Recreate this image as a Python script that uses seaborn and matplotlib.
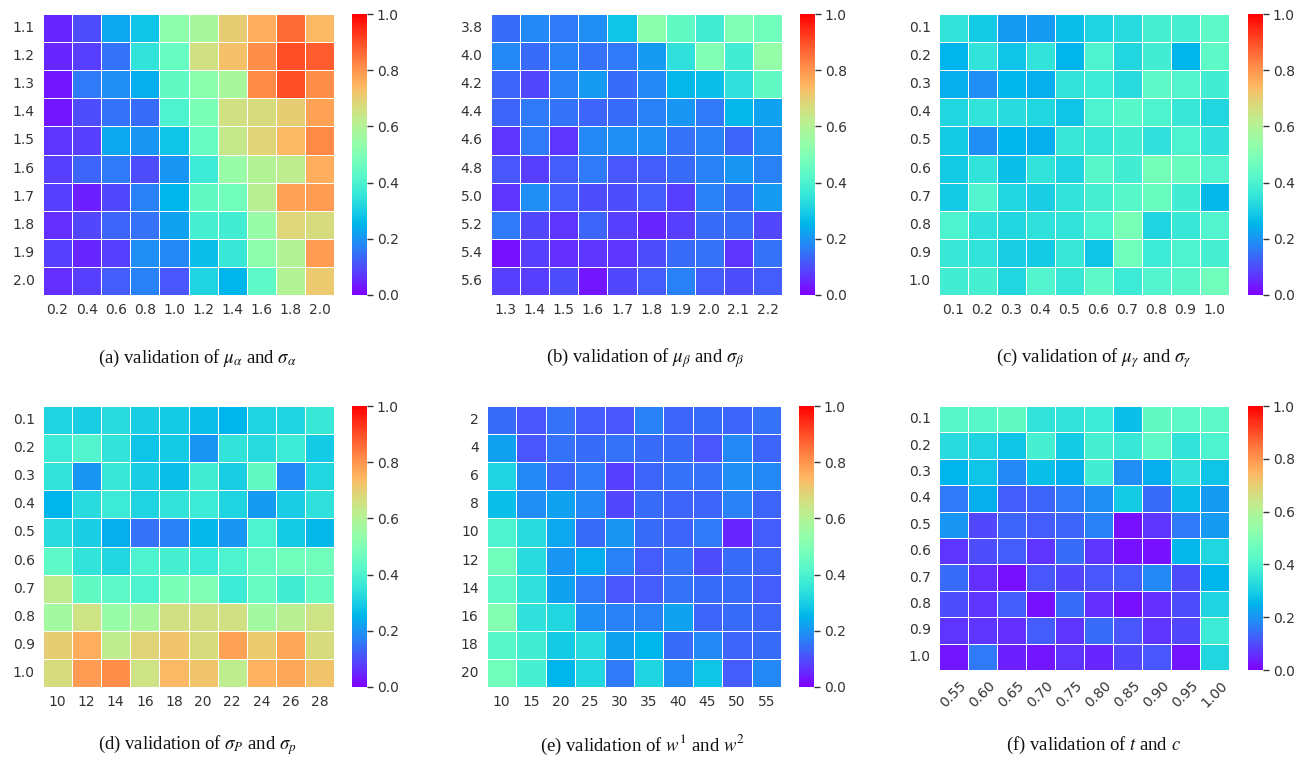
import numpy as np
import pandas as pd
import matplotlib
matplotlib.use("Agg")
import matplotlib.pyplot as plt
import seaborn as sns

# ---------------- data ----------------
a_rows = ["1.1", "1.2", "1.3", "1.4", "1.5", "1.6", "1.7", "1.8", "1.9", "2.0"]
a_cols = ["0.2", "0.4", "0.6", "0.8", "1.0", "1.2", "1.4", "1.6", "1.8", "2.0"]
a_vals = [
    [0.05, 0.10, 0.23, 0.28, 0.53, 0.58, 0.70, 0.76, 0.86, 0.74],
    [0.05, 0.08, 0.15, 0.35, 0.45, 0.66, 0.73, 0.81, 0.90, 0.88],
    [0.03, 0.16, 0.19, 0.24, 0.44, 0.52, 0.58, 0.82, 0.90, 0.81],
    [0.03, 0.10, 0.15, 0.14, 0.40, 0.49, 0.66, 0.67, 0.70, 0.78],
    [0.07, 0.08, 0.23, 0.20, 0.28, 0.45, 0.64, 0.69, 0.74, 0.82],
    [0.08, 0.13, 0.16, 0.10, 0.20, 0.37, 0.55, 0.60, 0.62, 0.76],
    [0.08, 0.04, 0.09, 0.17, 0.25, 0.44, 0.47, 0.61, 0.78, 0.79],
    [0.06, 0.09, 0.13, 0.15, 0.22, 0.39, 0.38, 0.55, 0.68, 0.67],
    [0.08, 0.05, 0.08, 0.19, 0.18, 0.27, 0.36, 0.53, 0.60, 0.79],
    [0.06, 0.08, 0.12, 0.17, 0.11, 0.31, 0.25, 0.43, 0.60, 0.71],
]

b_rows = ["3.8", "4.0", "4.2", "4.4", "4.6", "4.8", "5.0", "5.2", "5.4", "5.6"]
b_cols = ["1.3", "1.4", "1.5", "1.6", "1.7", "1.8", "1.9", "2.0", "2.1", "2.2"]
b_vals = [
    [0.14, 0.18, 0.16, 0.19, 0.28, 0.52, 0.44, 0.38, 0.50, 0.47],
    [0.18, 0.14, 0.17, 0.15, 0.16, 0.21, 0.34, 0.50, 0.38, 0.54],
    [0.13, 0.09, 0.17, 0.21, 0.14, 0.18, 0.26, 0.27, 0.34, 0.44],
    [0.13, 0.16, 0.15, 0.13, 0.14, 0.17, 0.20, 0.16, 0.26, 0.22],
    [0.07, 0.16, 0.07, 0.18, 0.19, 0.19, 0.15, 0.17, 0.13, 0.19],
    [0.11, 0.08, 0.12, 0.16, 0.11, 0.12, 0.14, 0.17, 0.20, 0.17],
    [0.07, 0.19, 0.12, 0.10, 0.10, 0.12, 0.08, 0.17, 0.14, 0.21],
    [0.16, 0.09, 0.07, 0.13, 0.08, 0.05, 0.08, 0.14, 0.14, 0.09],
    [0.02, 0.08, 0.06, 0.07, 0.07, 0.10, 0.14, 0.15, 0.07, 0.15],
    [0.08, 0.08, 0.10, 0.03, 0.09, 0.12, 0.17, 0.12, 0.10, 0.12],
]

c_rows = ["0.1", "0.2", "0.3", "0.4", "0.5", "0.6", "0.7", "0.8", "0.9", "1.0"]
c_cols = ["0.1", "0.2", "0.3", "0.4", "0.5", "0.6", "0.7", "0.8", "0.9", "1.0"]
c_vals = [
    [0.35, 0.29, 0.21, 0.21, 0.27, 0.31, 0.33, 0.39, 0.39, 0.43],
    [0.25, 0.35, 0.28, 0.35, 0.25, 0.40, 0.32, 0.38, 0.25, 0.43],
    [0.24, 0.19, 0.25, 0.24, 0.35, 0.37, 0.33, 0.43, 0.41, 0.38],
    [0.32, 0.35, 0.33, 0.32, 0.28, 0.40, 0.42, 0.40, 0.36, 0.32],
    [0.29, 0.19, 0.25, 0.24, 0.36, 0.36, 0.38, 0.34, 0.40, 0.34],
    [0.29, 0.35, 0.27, 0.35, 0.31, 0.42, 0.38, 0.48, 0.46, 0.41],
    [0.29, 0.41, 0.32, 0.30, 0.35, 0.39, 0.42, 0.46, 0.38, 0.26],
    [0.40, 0.34, 0.32, 0.34, 0.35, 0.40, 0.49, 0.31, 0.36, 0.41],
    [0.36, 0.35, 0.30, 0.29, 0.36, 0.28, 0.47, 0.37, 0.40, 0.39],
    [0.38, 0.39, 0.32, 0.41, 0.36, 0.43, 0.37, 0.41, 0.42, 0.47],
]

d_rows = ["0.1", "0.2", "0.3", "0.4", "0.5", "0.6", "0.7", "0.8", "0.9", "1.0"]
d_cols = ["10", "12", "14", "16", "18", "20", "22", "24", "26", "28"]
d_vals = [
    [0.31, 0.30, 0.33, 0.30, 0.29, 0.27, 0.25, 0.31, 0.31, 0.36],
    [0.37, 0.41, 0.35, 0.28, 0.29, 0.20, 0.35, 0.33, 0.37, 0.29],
    [0.35, 0.20, 0.36, 0.30, 0.27, 0.38, 0.30, 0.44, 0.18, 0.32],
    [0.25, 0.33, 0.37, 0.31, 0.35, 0.37, 0.31, 0.21, 0.30, 0.34],
    [0.33, 0.30, 0.24, 0.15, 0.17, 0.26, 0.20, 0.40, 0.29, 0.26],
    [0.43, 0.35, 0.32, 0.40, 0.39, 0.37, 0.40, 0.45, 0.47, 0.47],
    [0.62, 0.44, 0.43, 0.40, 0.49, 0.50, 0.37, 0.45, 0.38, 0.45],
    [0.57, 0.65, 0.55, 0.58, 0.66, 0.66, 0.66, 0.57, 0.61, 0.65],
    [0.70, 0.76, 0.62, 0.69, 0.72, 0.67, 0.78, 0.71, 0.77, 0.67],
    [0.67, 0.79, 0.81, 0.65, 0.74, 0.72, 0.62, 0.75, 0.77, 0.72],
]

e_rows = ["2", "4", "6", "8", "10", "12", "14", "16", "18", "20"]
e_cols = ["10", "15", "20", "25", "30", "35", "40", "45", "50", "55"]
e_vals = [
    [0.14, 0.11, 0.15, 0.12, 0.11, 0.17, 0.13, 0.14, 0.13, 0.15],
    [0.22, 0.11, 0.15, 0.14, 0.15, 0.14, 0.14, 0.11, 0.18, 0.13],
    [0.31, 0.18, 0.13, 0.16, 0.08, 0.13, 0.15, 0.15, 0.19, 0.18],
    [0.27, 0.19, 0.22, 0.18, 0.09, 0.14, 0.13, 0.13, 0.17, 0.13],
    [0.40, 0.33, 0.23, 0.14, 0.20, 0.14, 0.13, 0.16, 0.05, 0.12],
    [0.47, 0.33, 0.20, 0.24, 0.17, 0.12, 0.15, 0.10, 0.14, 0.13],
    [0.43, 0.34, 0.22, 0.16, 0.11, 0.12, 0.15, 0.14, 0.14, 0.12],
    [0.51, 0.34, 0.32, 0.19, 0.17, 0.17, 0.22, 0.13, 0.14, 0.13],
    [0.42, 0.38, 0.29, 0.33, 0.22, 0.25, 0.14, 0.18, 0.13, 0.14],
    [0.47, 0.39, 0.25, 0.32, 0.16, 0.31, 0.18, 0.28, 0.12, 0.18],
]

f_rows = ["0.1", "0.2", "0.3", "0.4", "0.5", "0.6", "0.7", "0.8", "0.9", "1.0"]
f_cols = ["0.55", "0.60", "0.65", "0.70", "0.75", "0.80", "0.85", "0.90", "0.95", "1.00"]
f_vals = [
    [0.42, 0.42, 0.44, 0.35, 0.35, 0.37, 0.27, 0.44, 0.43, 0.43],
    [0.33, 0.31, 0.28, 0.39, 0.29, 0.39, 0.36, 0.43, 0.35, 0.40],
    [0.25, 0.28, 0.18, 0.27, 0.24, 0.38, 0.19, 0.24, 0.34, 0.28],
    [0.16, 0.24, 0.12, 0.13, 0.16, 0.19, 0.29, 0.14, 0.27, 0.21],
    [0.20, 0.09, 0.13, 0.12, 0.13, 0.17, 0.02, 0.07, 0.16, 0.21],
    [0.07, 0.10, 0.12, 0.07, 0.14, 0.07, 0.02, 0.02, 0.26, 0.32],
    [0.14, 0.06, 0.02, 0.11, 0.09, 0.11, 0.12, 0.18, 0.10, 0.25],
    [0.10, 0.07, 0.12, 0.02, 0.14, 0.06, 0.02, 0.06, 0.10, 0.31],
    [0.07, 0.07, 0.06, 0.12, 0.07, 0.14, 0.11, 0.07, 0.09, 0.37],
    [0.03, 0.16, 0.04, 0.03, 0.07, 0.05, 0.09, 0.11, 0.03, 0.32],
]

captions = [
    r"(a) validation of $\mu_\alpha$ and $\sigma_\alpha$",
    r"(b) validation of $\mu_\beta$ and $\sigma_\beta$",
    r"(c) validation of $\mu_\gamma$ and $\sigma_\gamma$",
    r"(d) validation of $\sigma_P$ and $\sigma_p$",
    r"(e) validation of $w^1$ and $w^2$",
    r"(f) validation of $t$ and $c$",
]

# ---------------- layout ----------------
sns.set_theme(style="white")
plt.rcParams["mathtext.fontset"] = "stix"

W, H = 1307, 767
fig = plt.figure(figsize=(W / 100, H / 100), dpi=100)

def frac(x0, y0, x1, y1):
    return [x0 / W, (H - y1) / H, (x1 - x0) / W, (y1 - y0) / H]

panels = [
    (a_vals, a_rows, a_cols, (43, 14, 334, 295), (352, 14, 367, 295), 0, 358),
    (b_vals, b_rows, b_cols, (491, 14, 782, 295), (800, 14, 815, 295), 0, 358),
    (c_vals, c_rows, c_cols, (939, 14, 1229, 295), (1248, 14, 1263, 295), 0, 358),
    (d_vals, d_rows, d_cols, (43, 406, 334, 687), (352, 406, 367, 687), 0, 745),
    (e_vals, e_rows, e_cols, (487, 406, 781, 687), (799, 406, 814, 687), 0, 745),
    (f_vals, f_rows, f_cols, (939, 406, 1229, 670), (1248, 406, 1263, 670), 45, 745),
]

for (vals, rows, cols, axbox, cbbox, rot, cy), cap in zip(panels, captions):
    ax = fig.add_axes(frac(*axbox))
    cax = fig.add_axes(frac(*cbbox))
    df = pd.DataFrame(vals, index=rows, columns=cols)
    sns.heatmap(df, ax=ax, cbar_ax=cax, cmap="rainbow", vmin=0, vmax=1,
                linewidths=0.7, linecolor="white", square=False)
    ax.tick_params(axis="both", length=0, labelsize=10, colors="#333333", pad=6)
    ax.set_yticklabels(rows, rotation=0)
    if rot:
        ax.set_xticklabels(cols, rotation=45, ha="center", rotation_mode="default")
    else:
        ax.set_xticklabels(cols, rotation=0)
    cax.set_yticks([0, 0.2, 0.4, 0.6, 0.8, 1.0])
    cax.set_yticklabels(["0.0", "0.2", "0.4", "0.6", "0.8", "1.0"])
    cax.tick_params(axis="y", length=4, width=1, colors="#333333", labelsize=10,
                    direction="out", pad=3, left=False, right=True)
    for s in cax.spines.values():
        s.set_visible(False)
    cx = (axbox[0] + cbbox[2]) / 2 / W - 0.006
    fig.text(cx, 1 - cy / H, cap, ha="center", va="center", fontsize=13.5,
             family="Liberation Serif", color="#111111")

fig.savefig("out.png", dpi=100, facecolor="white")
